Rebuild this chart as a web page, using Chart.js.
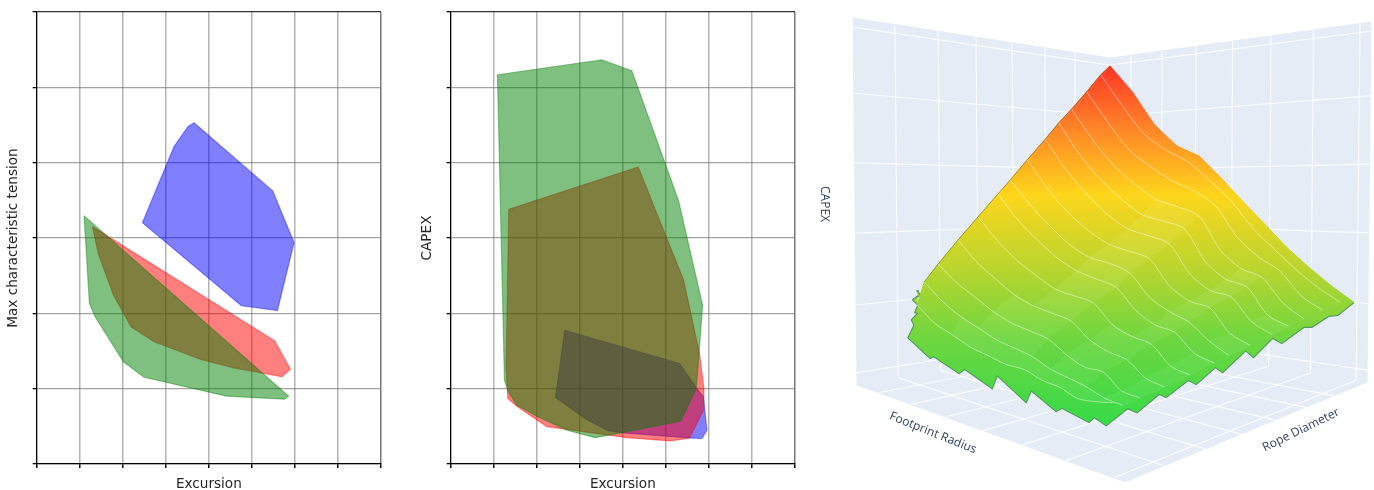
<!DOCTYPE html>
<html>
<head>
<meta charset="utf-8">
<title>Excursion, tension and CAPEX</title>
<script src="https://cdn.jsdelivr.net/npm/chart.js@4"></script>
<style>
  html, body { margin: 0; background: #fff; }
  canvas { position: absolute; top: 0; }
</style>
</head>
<body>
<canvas id="tension" width="400" height="490" style="left:0"></canvas>
<canvas id="capex" width="400" height="490" style="left:410px"></canvas>
<canvas id="surface" width="564" height="490" style="left:810px"></canvas>
<script>
// left panel: excursion vs max characteristic tension
const tensionBlueX = [2.455, 3.191, 3.517, 3.656, 5.484, 5.980, 5.593, 4.756];
const tensionBlueY = [3.204, 4.214, 4.480, 4.529, 3.625, 2.938, 2.038, 2.100];
const tensionRedX = [1.294, 1.433, 1.782, 2.192, 2.727, 3.796, 4.570, 5.701, 5.895, 5.531];
const tensionRedY = [3.151, 2.787, 2.242, 1.821, 1.622, 1.391, 1.276, 1.157, 1.258, 1.635];
const tensionGreenX = [1.100, 1.224, 1.356, 2.014, 2.494, 4.415, 5.755, 5.856];
const tensionGreenY = [3.297, 2.131, 1.954, 1.356, 1.152, 0.900, 0.860, 0.900];

// middle panel: excursion vs CAPEX
const capexBlueX = [2.651, 5.318, 5.705, 5.876, 5.953, 5.837, 5.550, 4.016, 3.667, 3.163, 2.434];
const capexBlueY = [1.773, 1.334, 1.015, 0.891, 0.448, 0.337, 0.346, 0.412, 0.439, 0.589, 0.882];
const capexRedX = [1.349, 4.357, 5.411, 5.783, 5.884, 5.876, 5.550, 5.101, 4.093, 2.233, 1.535, 1.326, 1.287];
const capexRedY = [3.381, 3.944, 2.442, 1.467, 1.001, 0.713, 0.341, 0.306, 0.350, 0.496, 0.767, 0.869, 1.290];
const capexGreenX = [1.085, 3.512, 4.209, 5.295, 5.853, 5.783, 5.705, 5.349, 3.860, 3.357, 2.698, 2.000, 1.535, 1.341, 1.248];
const capexGreenY = [5.167, 5.366, 5.220, 3.496, 2.109, 1.555, 1.001, 0.572, 0.403, 0.350, 0.448, 0.634, 0.780, 0.957, 1.112];

// right panel: surface heights, one row per rope diameter, one column per footprint step
const rowRope = [1, 0.964, 0.909, 0.85, 0.80, 0.747, 0.676, 0.609, 0.561, 0.482, 0.403, 0.324, 0.269, 0.24];
const rowRadiusMax = [0.945, 0.924, 0.91, 0.894, 0.881, 0.868, 0.85, 0.832, 0.82, 0.80, 0.779, 0.759, 0.745, 0.737];
const colStep = [0, 1, 2, 3, 4, 5, 6, 7, 8, 9, 10, 11];
const capexRows = [
  [0.972, 0.872, 0.753, 0.679, 0.643, 0.571, 0.496, 0.427, 0.36, 0.306, 0.258, 0.218],
  [0.936, 0.82, 0.72, 0.665, 0.625, 0.565, 0.50, 0.42, 0.36, 0.305, 0.26, 0.225],
  [0.871, 0.76, 0.665, 0.61, 0.565, 0.535, 0.49, 0.40, 0.345, 0.31, 0.245, 0.212],
  [0.807, 0.70, 0.615, 0.555, 0.51, 0.49, 0.465, 0.37, 0.32, 0.30, 0.235, 0.198],
  [0.757, 0.65, 0.57, 0.51, 0.465, 0.45, 0.43, 0.34, 0.295, 0.28, 0.21, 0.187],
  [0.70, 0.60, 0.525, 0.465, 0.425, 0.41, 0.39, 0.31, 0.27, 0.26, 0.20, 0.174],
  [0.63, 0.54, 0.47, 0.42, 0.385, 0.37, 0.355, 0.285, 0.25, 0.24, 0.18, 0.158],
  [0.564, 0.49, 0.43, 0.38, 0.35, 0.34, 0.32, 0.26, 0.23, 0.21, 0.17, 0.142],
  [0.52, 0.445, 0.39, 0.345, 0.315, 0.30, 0.285, 0.23, 0.20, 0.19, 0.145, 0.131],
  [0.45, 0.385, 0.335, 0.30, 0.27, 0.26, 0.25, 0.20, 0.18, 0.17, 0.125, 0.113],
  [0.382, 0.325, 0.285, 0.25, 0.23, 0.22, 0.21, 0.17, 0.15, 0.14, 0.105, 0.095],
  [0.314, 0.27, 0.24, 0.21, 0.19, 0.18, 0.17, 0.14, 0.12, 0.12, 0.085, 0.08],
  [0.265, 0.22, 0.19, 0.17, 0.15, 0.14, 0.13, 0.11, 0.10, 0.09, 0.075, 0.07],
  [0.20, 0.16, 0.14, 0.12, 0.11, 0.10, 0.10, 0.085, 0.08, 0.065, 0.07, 0.08]
];

// ragged front of the surface, from the left end round to the right corner
const frontRadius = [0, 0, 0, 0, 0, 0, 0, 0, 0, 0.081, 0.094, 0.189, 0.211, 0.313, 0.332, 0.441, 0.46, 0.554, 0.576, 0.678, 0.697, 0.742, 0.758, 0.766, 0.784, 0.79, 0.808, 0.815, 0.83, 0.836, 0.855, 0.862, 0.878, 0.885, 0.904, 0.91, 0.924, 0.932, 0.945];
const frontRope = [0.241, 0.249, 0.225, 0.245, 0.233, 0.245, 0.219, 0.229, 0.205, 0.205, 0.205, 0.205, 0.205, 0.205, 0.205, 0.205, 0.205, 0.205, 0.205, 0.205, 0.205, 0.205, 0.276, 0.305, 0.376, 0.398, 0.469, 0.494, 0.556, 0.579, 0.653, 0.678, 0.739, 0.769, 0.839, 0.865, 0.92, 0.948, 1];
const frontCapex = [0.243, 0.228, 0.216, 0.20, 0.18, 0.177, 0.159, 0.143, 0.109, 0.07, 0.078, 0.052, 0.068, 0.039, 0.077, 0.03, 0.064, 0.031, 0.043, 0.029, 0.045, 0.034, 0.064, 0.05, 0.084, 0.073, 0.104, 0.09, 0.123, 0.106, 0.15, 0.128, 0.168, 0.149, 0.18, 0.175, 0.195, 0.192, 0.218];

// box ticks, in box fractions
const ropeTicks = [0.163, 0.331, 0.479, 0.619, 0.747, 0.864];
const radiusTicks = [0.08, 0.2, 0.33, 0.47, 0.617, 0.78, 0.958];
const heightTicks = [0.033, 0.218, 0.414, 0.605, 0.795, 0.975];

// camera: where the box corners land, order is left, near, right, back
const floorPx = [[857, 385], [1125, 482], [1367, 382], [1110, 341]];
const topPx = [[853, 18], [1128, 15], [1371, 22], [1110, 58]];

const SURFACE_Y = [66, 120, 195, 270, 340, 425];
const SURFACE_COLORS = ['#ff3526', '#ff7a28', '#fdd61c', '#b8d52e', '#6dd640', '#36da48'];
const SURFACE_LIT = ['#ff3e2e', '#ff8030', '#fdd928', '#bed93a', '#74d94a', '#3edc50'];

const zip = (xs, ys) => {
    const pts = xs.map((x, i) => ({ x, y: ys[i] }));
    pts.push(pts[0]);
    return pts;
};

const polygon = (data, rgb) => ({
    data,
    showLine: true,
    fill: 'shape',
    pointRadius: 0,
    backgroundColor: `rgba(${rgb},0.5)`,
    borderColor: `rgba(${rgb},0.4)`,
    borderWidth: 1.2
});

function excursionChart(id, yTitle, axisWidth, padRight, titlePad, layers) {
    new Chart(document.getElementById(id), {
        type: 'scatter',
        data: { datasets: layers },
        options: {
            responsive: false,
            animation: false,
            events: [],
            layout: { padding: { top: 12, right: padRight } },
            plugins: { legend: { display: false }, tooltip: { enabled: false } },
            scales: {
                x: {
                    min: 0, max: 8,
                    title: { display: true, text: 'Excursion', color: '#262626', font: { family: 'DejaVu Sans', size: 13.6 }, padding: { top: 0, bottom: -3 } },
                    ticks: { stepSize: 1, callback: () => '', maxRotation: 0, autoSkip: false },
                    grid: { color: ctx => ctx.index === 8 ? '#777' : 'rgba(128,128,128,0.6)', lineWidth: 1.5, tickColor: '#000', tickLength: 4 },
                    border: { color: '#000', width: 1.2 },
                    afterFit: s => { s.height = 26; }
                },
                y: {
                    min: 0, max: 6,
                    title: { display: true, text: yTitle, color: '#262626', font: { family: 'DejaVu Sans', size: 13.6 }, padding: { top: titlePad, bottom: 0 } },
                    ticks: { stepSize: 1, callback: () => '', autoSkip: false },
                    grid: { color: ctx => ctx.index === 6 ? '#333' : 'rgba(128,128,128,0.72)', lineWidth: 1.3, tickColor: '#000', tickLength: 4 },
                    border: { color: '#000', width: 1.2 },
                    afterFit: s => { s.width = axisWidth; }
                }
            }
        }
    });
}

excursionChart('tension', 'Max characteristic tension', 36.7, 19, 5, [
    polygon(zip(tensionGreenX, tensionGreenY), '0,128,0'),
    polygon(zip(tensionRedX, tensionRedY), '255,0,0'),
    polygon(zip(tensionBlueX, tensionBlueY), '0,0,255')
]);

excursionChart('capex', 'CAPEX', 40.7, 15, 9, [
    polygon(zip(capexGreenX, capexGreenY), '0,128,0'),
    polygon(zip(capexRedX, capexRedY), '255,0,0'),
    polygon(zip(capexBlueX, capexBlueY), '0,0,255')
]);

// u: left->near, v: near->right, w: floor->top
function project(u, v, w) {
    const blend = (c, k) => (1 - v) * ((1 - u) * c[0][k] + u * c[1][k]) + v * ((1 - u) * c[3][k] + u * c[2][k]);
    return {
        x: (1 - w) * blend(floorPx, 0) + w * blend(topPx, 0),
        y: (1 - w) * blend(floorPx, 1) + w * blend(topPx, 1)
    };
}

const surfaceCanvas = document.getElementById('surface');

function verticalGradient(colors) {
    const g = surfaceCanvas.getContext('2d').createLinearGradient(0, SURFACE_Y[0], 0, SURFACE_Y[SURFACE_Y.length - 1]);
    colors.forEach((c, i) => {
        g.addColorStop((SURFACE_Y[i] - SURFACE_Y[0]) / (SURFACE_Y[SURFACE_Y.length - 1] - SURFACE_Y[0]), c);
    });
    return g;
}

const surfaceFill = verticalGradient(SURFACE_COLORS);
const surfaceLit = verticalGradient(SURFACE_LIT);

const pane = pts => ({
    data: pts,
    showLine: true,
    fill: 'shape',
    pointRadius: 0,
    backgroundColor: '#e5ecf6',
    borderColor: '#e5ecf6',
    borderWidth: 1
});

const line = (pts, color, width, tension) => ({
    data: pts,
    showLine: true,
    fill: false,
    pointRadius: 0,
    borderColor: color,
    borderWidth: width,
    tension: tension || 0
});

const layers = [];
layers.push(pane([project(0, 0, 0), project(0, 1, 0), project(0, 1, 1), project(0, 0, 1), project(0, 0, 0)]));
layers.push(pane([project(0, 1, 0), project(1, 1, 0), project(1, 1, 1), project(0, 1, 1), project(0, 1, 0)]));
layers.push(pane([project(0, 0, 0), project(1, 0, 0), project(1, 1, 0), project(0, 1, 0), project(0, 0, 0)]));

const GRID = 'rgba(255,255,255,0.8)';
ropeTicks.forEach(v => {
    layers.push(line([project(0, v, 0), project(0, v, 1)], GRID, 1.2));
    layers.push(line([project(0, v, 0), project(1, v, 0)], GRID, 1.2));
});
radiusTicks.forEach(u => {
    layers.push(line([project(u, 1, 0), project(u, 1, 1)], GRID, 1.2));
    layers.push(line([project(u, 0, 0), project(u, 1, 0)], GRID, 1.2));
});
heightTicks.forEach(w => {
    layers.push(line([project(0, 0, w), project(0, 1, w), project(1, 1, w)], GRID, 1.2));
});

const cell = (i, j) => project(colStep[j] / 11 * rowRadiusMax[i], rowRope[i], capexRows[i][j]);
const lastRow = rowRope.length - 1;
const lastCol = colStep.length - 1;

// ragged front goes in first, the rows then cover it from behind
const frontEdge = frontRadius.map((u, i) => project(u, frontRope[i], frontCapex[i]));
const frontFill = [
    ...frontEdge,
    ...rowRope.map((v, i) => cell(i, lastCol)),
    ...colStep.slice().reverse().map(j => cell(lastRow, j)),
    frontEdge[0]
];
layers.push(line(frontEdge, 'rgba(45,135,50,0.8)', 2.2));
layers.push({
    data: frontFill,
    showLine: true,
    fill: 'shape',
    pointRadius: 0,
    backgroundColor: surfaceFill,
    borderColor: 'transparent',
    borderWidth: 0
});

// back to front so nearer cells cover farther ones
for (let i = 0; i < lastRow; i++) {
    for (let j = 0; j < lastCol; j++) {
        const flat = capexRows[i][j] - capexRows[i][j + 1] < 0.025;
        const fill = flat ? surfaceLit : surfaceFill;
        layers.push({
            data: [cell(i, j), cell(i, j + 1), cell(i + 1, j + 1), cell(i + 1, j), cell(i, j)],
            showLine: true,
            fill: 'shape',
            pointRadius: 0,
            backgroundColor: fill,
            borderColor: fill,
            borderWidth: 1
        });
    }
}

for (let i = 1; i <= lastRow; i++) {
    layers.push(line(colStep.map(j => cell(i, j)), 'rgba(255,255,255,0.55)', 0.8, 0.3));
}

layers.push(line(rowRope.slice(0, 13).map((v, i) => cell(i, 0)), 'rgba(115,120,35,0.6)', 1));

layers.forEach((d, i) => { d.order = -i; });

const axisLabels = {
    id: 'axisLabels',
    afterDraw(chart) {
        const { ctx, scales } = chart;
        const labels = [
            { text: 'CAPEX', x: 824, y: 204, angle: 90 },
            { text: 'Footprint Radius', x: 933, y: 433, angle: 22 },
            { text: 'Rope Diameter', x: 1301, y: 430, angle: -26 }
        ];
        ctx.save();
        ctx.font = '12px "Open Sans"';
        ctx.fillStyle = '#2a3f5f';
        ctx.textAlign = 'center';
        ctx.textBaseline = 'middle';
        labels.forEach(l => {
            ctx.save();
            ctx.translate(scales.x.getPixelForValue(l.x), scales.y.getPixelForValue(l.y));
            ctx.rotate(l.angle * Math.PI / 180);
            ctx.fillText(l.text, 0, 0);
            ctx.restore();
        });
        ctx.restore();
    }
};

new Chart(surfaceCanvas, {
    type: 'scatter',
    data: { datasets: layers },
    plugins: [axisLabels],
    options: {
        responsive: false,
        animation: false,
        events: [],
        plugins: { legend: { display: false }, tooltip: { enabled: false } },
        scales: {
            x: { display: false, min: 810, max: 1374 },
            y: { display: false, min: 0, max: 490, reverse: true }
        }
    }
});
</script>
</body>
</html>
